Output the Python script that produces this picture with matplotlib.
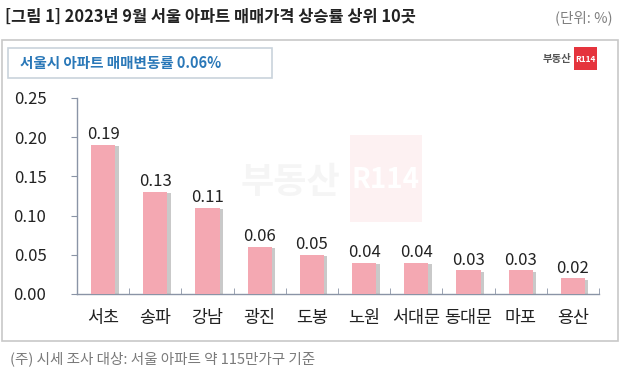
import matplotlib.pyplot as plt
import matplotlib.patheffects as pe
from matplotlib.patches import Rectangle

plt.rcParams['font.family'] = ['Noto Sans CJK KR', 'DejaVu Sans']

# data
districts = ['서초', '송파', '강남', '광진', '도봉', '노원', '서대문', '동대문', '마포', '용산']
rates = [0.19, 0.13, 0.11, 0.06, 0.05, 0.04, 0.04, 0.03, 0.03, 0.02]
yticks = [0.00, 0.05, 0.10, 0.15, 0.20, 0.25]

W, H = 628, 390
fig = plt.figure(figsize=(W / 100, H / 100), dpi=100)


def fy(y):
    # pixel row from top -> figure fraction
    return 1 - y / H


# title + unit
fig.text(5 / W, fy(17), '[그림 1] 2023년 9월 서울 아파트 매매가격 상승률 상위 10곳',
         fontsize=11.8, fontweight='bold', color='#222222', va='center', ha='left')
fig.text(613 / W, fy(18), '(단위: %)', fontsize=10.5, color='#808080', va='center', ha='right')

# outer frame
fig.patches.append(Rectangle((2 / W, fy(341)), 616 / W, 301 / H, transform=fig.transFigure,
                             fill=False, edgecolor='#c8c8c8', lw=1.2))
# subtitle box
fig.patches.append(Rectangle((8 / W, fy(78)), 264 / W, 30 / H, transform=fig.transFigure,
                             facecolor='white', edgecolor='#c9d3dc', lw=1.2))
fig.text(20 / W, fy(63), '서울시 아파트 매매변동률 0.06%', fontsize=10.5, fontweight='bold',
         color='#2a78b8', va='center', ha='left')

# logo
fig.text(571 / W, fy(59), '부동산', fontsize=7.5, fontweight='bold', color='#555555',
         va='center', ha='right')
fig.patches.append(Rectangle((574 / W, fy(70)), 23 / W, 23 / H, transform=fig.transFigure,
                             facecolor='#e5343d', edgecolor='none'))
fig.text(585.5 / W, fy(59), 'R114', fontsize=6, fontweight='bold', color='white',
         va='center', ha='center')

# watermark
fig.text(290 / W, fy(182), '부동산', fontsize=26, fontweight='bold', color='#f5f5f5',
         va='center', ha='center', zorder=0)
fig.patches.append(Rectangle((350 / W, fy(222)), 72 / W, 87 / H, transform=fig.transFigure,
                             facecolor='#fdf1f2', edgecolor='none', zorder=0))
fig.text(386 / W, fy(180), 'R114', fontsize=20, fontweight='bold', color='white',
         va='center', ha='center', zorder=0)

# chart
ax = fig.add_axes([77 / W, fy(294), 522 / W, (294 - 98) / H])
ax.patch.set_alpha(0)
x = range(len(districts))
bars = ax.bar(x, rates, width=0.46, color='#f4a8b2', zorder=3)
for b in bars:
    b.set_path_effects([pe.SimplePatchShadow(offset=(2.5, -1), shadow_rgbFace='#7a7a7a', alpha=0.4),
                        pe.Normal()])
for i, v in enumerate(rates):
    ax.text(i, v + 0.013, f'{v:.2f}', ha='center', va='center', fontsize=12, color='#222222')

ax.set_xlim(-0.5, len(districts) - 0.5)
ax.set_ylim(0, 0.25)
ax.set_yticks(yticks)
ax.set_yticklabels([f'{t:.2f}' for t in yticks], fontsize=12, color='#222222')
ax.set_xticks(list(x))
ax.set_xticklabels(districts, fontsize=12.5, color='#222222')
ax.set_xticks([i + 0.5 for i in range(-1, len(districts))], minor=True)
ax.tick_params(axis='x', which='major', length=0, pad=11)
ax.tick_params(axis='x', which='minor', length=4, direction='in', color='#8a94a6')
ax.tick_params(axis='y', length=4, direction='out', color='#8a94a6', pad=18)
for s in ['top', 'right']:
    ax.spines[s].set_visible(False)
for s in ['left', 'bottom']:
    ax.spines[s].set_color('#8a94a6')
    ax.spines[s].set_linewidth(1.0)

# footnote
fig.text(10 / W, fy(359), '(주) 시세 조사 대상: 서울 아파트 약 115만가구 기준', fontsize=10.5,
         color='#7a7a7a', va='center', ha='left')

fig.savefig('out.png', dpi=100)
